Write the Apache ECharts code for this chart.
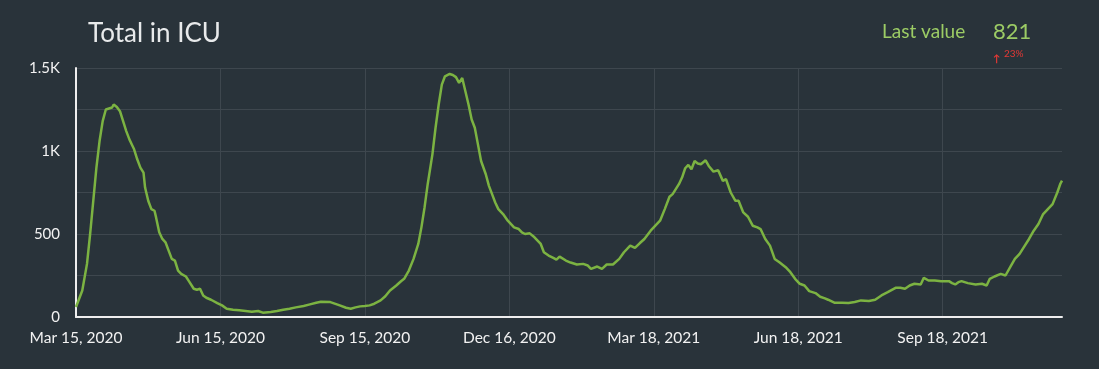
<!DOCTYPE html>
<html>
<head>
<meta charset="utf-8">
<script src="https://cdn.jsdelivr.net/npm/echarts@6/dist/echarts.min.js"></script>
<style>
html,body{margin:0;padding:0;background:#29333a;}
#chart{width:1099px;height:369px;}
</style>
</head>
<body>
<div id="chart"></div>
<script>
// Days since Mar 15, 2020
const dayOffsets = [0,4,7,9,11,13,15,17,19,21,23,24,26,28,30,32,34,35,36,37,39,41,42,43,44,46,48,50,51,53,55,57,59,61,63,65,67,70,72,75,77,79,81,83,86,90,93,96,100,104,108,112,116,119,124,128,132,136,140,145,149,153,156,
162,168,172,175,178,181,184,187,190,194,197,200,202,204,207,209,212,215,218,220,222,224,227,229,231,233,235,238,240,242,244,246,248,250,252,254,256,258,261,263,265,267,269,272,275,279,282,284,286,287,289,292,296,298,301,304,306,308,312,315,319,323,326,328,332,335,338,342,346,349,353,356,359,362,366,369,372,375,378,380,384,386,388,390,392,394,396,398,401,403,406,409,412,414,417,420,422,425,428,431,434,436,439,442,445,448,452,455,458,461,464,467,471,474,477,479,483,488,492,496,500,505,509,513,517,522,525,528,531,534,538,540,543,547,551,556,558,560,562,564,568,573,577,580,582,585,589,592,595,598,601,603,607,610,613,616,619,622,625,627,628];
// Total patients in ICU
const icuTotals = [60,160,320,500,700,900,1060,1180,1250,1256,1262,1280,1265,1240,1180,1120,1070,1075,1030,1010,950,900,885,870,780,700,650,640,600,510,470,450,400,350,340,280,260,244,215,170,164,170,130,116,104,84,70,50,44,40,36,32,36,26,30,36,44,50,58,66,76,86,92,
90,70,56,50,58,64,66,70,80,100,125,160,175,190,215,230,280,350,440,540,660,800,980,1140,1280,1400,1450,1464,1458,1445,1410,1440,1360,1280,1190,1140,1040,940,860,790,740,690,650,620,580,540,530,510,500,498,504,480,440,390,370,356,346,364,340,328,316,320,310,290,304,290,316,316,350,390,430,416,444,470,520,550,580,650,724,740,800,840,896,916,890,940,925,920,944,910,876,884,820,830,750,700,700,630,604,550,540,530,470,430,350,330,300,270,230,200,190,156,144,122,112,104,86,86,84,90,100,96,104,130,150,176,176,170,190,200,196,236,220,220,216,216,204,196,210,216,204,196,200,190,230,244,260,250,300,350,380,410,470,520,560,620,650,680,750,804,821];
const tickLabels = ['Mar 15, 2020','Jun 15, 2020','Sep 15, 2020','Dec 16, 2020','Mar 18, 2021','Jun 18, 2021','Sep 18, 2021'];
const yTickLabels = {0:'0',500:'500',1000:'1K',1500:'1.5K'};
const lastValue = '821';
const lastChange = '23%';

const seriesData = dayOffsets.map((d,i)=>[d, icuTotals[i]]);

const chart = echarts.init(document.getElementById('chart'));
chart.setOption({
  backgroundColor:'#29333a',
  animation:false,
  title:{
    text:'Total in ICU', left:83, top:16,
    textStyle:{color:'#e8eaeb', fontFamily:'Lato', fontSize:26, fontWeight:'normal'}
  },
  graphic:[
    {type:'text', left:882, top:22, style:{text:'Last value', fill:'#9ccc65', font:'19px Lato'}},
    {type:'text', left:993, top:21, style:{text:lastValue, fill:'#9ccc65', font:'22px Lato'}},
    {type:'text', left:993, top:54, style:{text:'↑', fill:'#e53935', font:'bold 10px Lato'}},
    {type:'text', left:1004, top:49, style:{text:lastChange, fill:'#e53935', font:'10px Lato'}}
  ],
  grid:{left:76, right:37, top:68, bottom:52, containLabel:false},
  xAxis:{
    type:'value', min:0, max:628, interval:92,
    axisLine:{show:true, onZero:false, lineStyle:{color:'#eeeeee', width:2}},
    axisTick:{show:false},
    axisLabel:{
      color:'#f2f2f2', fontFamily:'Lato', fontSize:15.5, margin:13, showMaxLabel:false,
      formatter:v=> (v%92===0 && tickLabels[v/92]) ? tickLabels[v/92] : ''
    },
    splitLine:{show:true, showMaxLine:false, lineStyle:{color:'#3e474e', width:1}}
  },
  yAxis:{
    type:'value', min:0, max:1500, interval:250,
    axisLine:{show:true, lineStyle:{color:'#eeeeee', width:2}},
    axisTick:{show:false},
    axisLabel:{
      color:'#f2f2f2', fontFamily:'Lato', fontSize:15, margin:16,
      formatter:v=> (yTickLabels[v]!==undefined ? yTickLabels[v] : '')
    },
    splitLine:{show:true, lineStyle:{color:'#3e474e', width:1}}
  },
  series:[{
    type:'line', data:seriesData, showSymbol:false, symbol:'none',
    lineStyle:{color:'#7cb342', width:2.5}
  }]
});
</script>
</body>
</html>
